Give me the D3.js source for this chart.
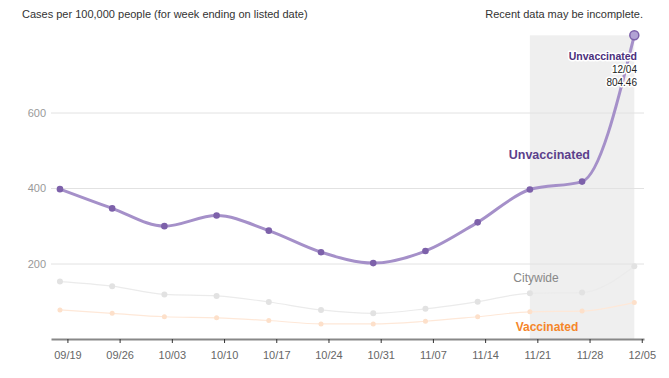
<!DOCTYPE html>
<html><head><meta charset="utf-8">
<script src="https://cdn.jsdelivr.net/npm/d3@7"></script>
<style>
body{margin:0;background:#fff;}
svg{font-family:"Liberation Sans",Arial,Helvetica,sans-serif;}
</style></head>
<body><svg id="c" width="669" height="378"></svg>
<script>
const dates = ["2021-09-18","2021-09-25","2021-10-02","2021-10-09","2021-10-16","2021-10-23","2021-10-30","2021-11-06","2021-11-13","2021-11-20","2021-11-27","2021-12-04"];
const unvaccinated = [397, 346, 299, 327, 287, 230, 201, 233, 309, 396, 417, 804.46];
const citywide = [152, 140, 118, 114, 98, 77, 68, 80, 99, 121, 123, 193];
const vaccinated = [77, 68, 59, 56, 49, 40, 40, 47, 59, 72, 74, 97];
const yTicks = [200, 400, 600];
const incompleteStart = "2021-11-20";
const incompleteEnd = "2021-12-04";

const svg = d3.select("#c");
const day = 864e5;
const parse = d3.utcParse("%Y-%m-%d");
const D = dates.map(parse);
const x = d3.scaleUtc()
  .domain([new Date(+D[0] - 1.2*day), new Date(+D[D.length-1] + 1.3*day)])
  .range([51, 644]);
const y = d3.scaleLinear().domain([0, 600]).range([339, 112.5]);

// incomplete band
svg.append("rect")
  .attr("x", x(parse(incompleteStart))).attr("width", x(parse(incompleteEnd)) - x(parse(incompleteStart)))
  .attr("y", y(804.46)).attr("height", y(0) - y(804.46))
  .attr("fill", "#efefef");

// grid
const gy = svg.append("g").attr("transform","translate(51,0)")
  .call(d3.axisLeft(y).tickValues(yTicks).tickSize(-593).tickPadding(5));
gy.select(".domain").remove();
gy.selectAll(".tick line").attr("stroke","#e2e2e2");
gy.selectAll(".tick text").attr("fill","#999").attr("font-size",11).attr("font-family","Liberation Sans, Arial, sans-serif");

// x axis
const gx = svg.append("g").attr("transform","translate(0,339)")
  .call(d3.axisBottom(x).ticks(d3.utcWeek.every(1)).tickFormat(d3.utcFormat("%m/%d")).tickSize(4).tickSizeOuter(0).tickPadding(8));
gx.select(".domain").attr("stroke","#888").attr("stroke-width",2);
gx.selectAll(".tick line").attr("stroke","#333");
gx.selectAll(".tick text").attr("fill","#666").attr("font-size",11).attr("font-family","Liberation Sans, Arial, sans-serif");

function series(vals, lineColor, lw, dotColor, r){
  const data = vals.map((v,i)=>({d:D[i], v}));
  const line = d3.line().x(p=>x(p.d)).y(p=>y(p.v)).curve(d3.curveMonotoneX);
  svg.append("path").datum(data).attr("d", line).attr("fill","none")
    .attr("stroke", lineColor).attr("stroke-width", lw);
  svg.append("g").selectAll("circle").data(data).join("circle")
    .attr("cx", p=>x(p.d)).attr("cy", p=>y(p.v)).attr("r", r).attr("fill", dotColor);
  return data;
}
series(citywide, "#ebebeb", 1.2, "#e2e2e2", 3);
series(vaccinated, "#fee8d8", 1.2, "#fde0ca", 2.5);
const ud = series(unvaccinated, "#a590c9", 3, "#7d61aa", 3.3);

// last point highlight
const last = ud[ud.length-1];
svg.append("circle").attr("cx", x(last.d)).attr("cy", y(last.v)).attr("r", 4.5)
  .attr("fill","#b2a2d4").attr("stroke","#7d61aa").attr("stroke-width",1.5);

// annotation for last point
const ann = svg.append("g").attr("text-anchor","end")
  .attr("stroke","#fff").attr("stroke-width",3).attr("paint-order","stroke").attr("stroke-linejoin","round");
ann.append("text").attr("x",637).attr("y",60).attr("font-size",10.5).attr("font-weight","bold").attr("fill","#4b2f7c").text("Unvaccinated");
ann.append("text").attr("x",637).attr("y",73).attr("font-size",10).attr("fill","#222").text(d3.utcFormat("%m/%d")(last.d));
ann.append("text").attr("x",637).attr("y",86).attr("font-size",10).attr("fill","#222").text(last.v.toFixed(2));

// series labels
svg.append("text").attr("x",590).attr("y",159).attr("text-anchor","end").attr("font-size",12.5)
  .attr("font-weight","bold").attr("fill","#5b3f8c").text("Unvaccinated");
svg.append("text").attr("x",536).attr("y",282).attr("text-anchor","middle").attr("font-size",12)
  .attr("fill","#888").text("Citywide");
svg.append("text").attr("x",547).attr("y",331).attr("text-anchor","middle").attr("font-size",12)
  .attr("font-weight","bold").attr("fill","#f5862a").text("Vaccinated");

// header texts
svg.append("text").attr("x",22).attr("y",18).attr("font-size",11).attr("fill","#333")
  .text("Cases per 100,000 people (for week ending on listed date)");
svg.append("text").attr("x",643).attr("y",18).attr("text-anchor","end").attr("font-size",11).attr("fill","#333")
  .text("Recent data may be incomplete.");
</script></body></html>
